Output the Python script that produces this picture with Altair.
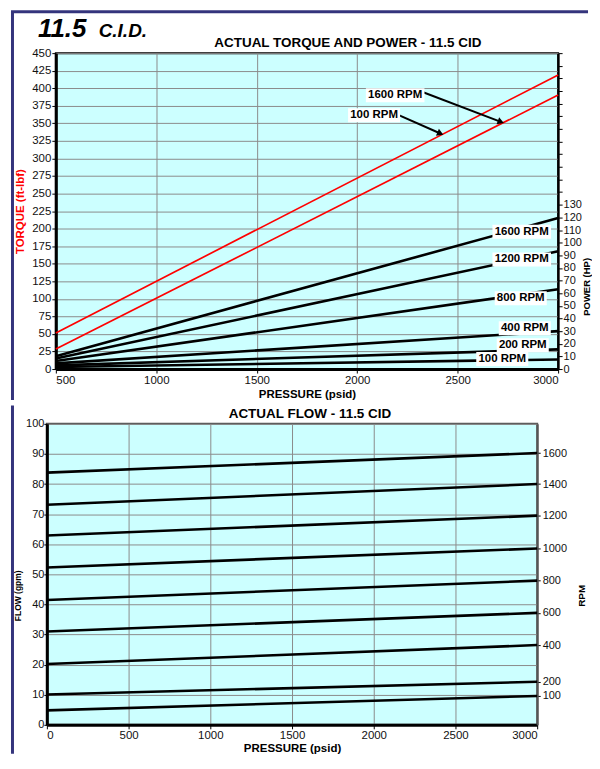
import altair as alt
import pandas as pd

FONT = "Liberation Sans"
BG = "#ccffff"
GRID = "#8c8c8c"
NAVY = "#34347c"

# ---------------- top chart values ----------------
top_pressure = [500, 3000]

torque_curves = ["100 RPM", "1600 RPM"]
torque_at_500 = [51.5, 28.4]
torque_at_3000 = [419.0, 390.4]

power_curves = ["100 RPM", "200 RPM", "400 RPM", "800 RPM", "1200 RPM", "1600 RPM"]
power_at_500 = [1.6, 2.9, 4.5, 6.3, 8.4, 10.2]
power_at_3000 = [7.6, 15.6, 30.0, 63.2, 93.2, 119.5]

power_label_pressure = [2722, 2824, 2834, 2814, 2819, 2819]
power_label_hp = [7.9, 18.9, 32.3, 56.0, 86.7, 108.7]

torque_label_text = ["1600 RPM", "100 RPM"]
torque_label_pressure = [2189, 2084]
torque_label_torque = [390.0, 361.6]
arrow_from_pressure = [2325, 2207]
arrow_from_torque = [394.7, 361.6]
arrow_to_pressure = [2715, 2414]
arrow_to_torque = [352.0, 335.5]
arrow_angle = [20.6, 23.5]

torque_ticks = list(range(0, 451, 25))
power_ticks = list(range(0, 251, 10))
top_pressure_ticks = [500, 1000, 1500, 2000, 2500, 3000]

# --------------- bottom chart values --------------
flow_pressure = [0, 3000]
flow_rpm = ["100", "200", "400", "600", "800", "1000", "1200", "1400", "1600"]
flow_at_0 = [4.8, 10.1, 20.2, 31.0, 41.5, 52.3, 62.9, 73.1, 83.8]
flow_at_3000 = [9.6, 14.3, 26.5, 37.2, 47.9, 58.6, 69.5, 80.0, 90.3]
flow_ticks = list(range(0, 101, 10))
flow_pressure_ticks = [0, 500, 1000, 1500, 2000, 2500, 3000]

# --------------- tables ----------------
torque_df = pd.DataFrame(
    [{"rpm": r, "pressure": p, "torque": v}
     for r, a, b in zip(torque_curves, torque_at_500, torque_at_3000)
     for p, v in zip(top_pressure, [a, b])]
)
power_df = pd.DataFrame(
    [{"rpm": r, "pressure": p, "hp": v}
     for r, a, b in zip(power_curves, power_at_500, power_at_3000)
     for p, v in zip(top_pressure, [a, b])]
)


def box(text, h=14.0):
    w = 6.6 * len(text) + 6
    return f"M-1,{-h / w:.4f}H1V{h / w:.4f}H-1Z", w * w


power_lab_df = pd.DataFrame({
    "text": power_curves,
    "pressure": power_label_pressure,
    "hp": power_label_hp,
})
power_lab_df["shape"] = [box(t)[0] for t in power_curves]
power_lab_df["size"] = [box(t)[1] for t in power_curves]

torque_lab_df = pd.DataFrame({
    "text": torque_label_text,
    "pressure": torque_label_pressure,
    "torque": torque_label_torque,
})
torque_lab_df["shape"] = [box(t)[0] for t in torque_label_text]
torque_lab_df["size"] = [box(t)[1] for t in torque_label_text]

arrow_df = pd.DataFrame({
    "pressure": arrow_from_pressure, "t0": arrow_from_torque,
    "p1": arrow_to_pressure, "t1": arrow_to_torque,
    "ang": arrow_angle,
})

flow_df = pd.DataFrame(
    [{"rpm": r, "pressure": p, "flow": v}
     for r, a, b in zip(flow_rpm, flow_at_0, flow_at_3000)
     for p, v in zip(flow_pressure, [a, b])]
)

one = pd.DataFrame({"a": [0]})


def label(text, x, y, size, italic=False, align="left"):
    return alt.Chart(pd.DataFrame({"t": [text]})).mark_text(
        font=FONT, fontSize=size, fontStyle="italic" if italic else "normal",
        fontWeight="bold", color="black", align=align, baseline="alphabetic"
    ).encode(x=alt.value(x), y=alt.value(y), text="t:N")


# --------------- axes ----------------
lab = dict(labelFont=FONT, labelFontSize=11.5, labelColor="#111111",
           titleFont=FONT, titleFontSize=11.5, titleFontWeight="bold",
           tickColor="black", tickSize=4, domainColor="black",
           gridColor=GRID, gridWidth=1, gridOpacity=1)

TOP_W, TOP_H = 504, 317
BOT_W, BOT_H = 492, 302

x_top_scale = alt.Scale(domain=[500, 3000], nice=False, zero=False)
torque_scale = alt.Scale(domain=[0, 450], nice=False)
power_scale = alt.Scale(domain=[0, 250], nice=False)

x_top_axis = alt.Axis(values=top_pressure_ticks, format="d", title="PRESSURE (psid)",
                      titleColor="black", domainWidth=3, grid=True, labelPadding=2,
                      titlePadding=2, **lab)
torque_axis = alt.Axis(values=torque_ticks, title="TORQUE (ft-lbf)", titleColor="#ff0000",
                       domainWidth=3, grid=True, labelPadding=1, titlePadding=6, **lab)
lab_p = dict(lab)
lab_p["labelFontSize"] = 11
lab_p["titleFontSize"] = 9.5
power_axis = alt.Axis(orient="right", values=power_ticks,
                      labelExpr="datum.value <= 130 ? datum.label : ''",
                      title="POWER (HP)", titleColor="black", titleAngle=270, titleY=234,
                      titleBaseline="top", titleAlign="center",
                      grid=False, domainWidth=2, labelPadding=1, titlePadding=0, **lab_p)

X_top = alt.X("pressure:Q", scale=x_top_scale, axis=x_top_axis)

# --------------- top chart layers ----------------
frame_top = alt.Chart(one).mark_rule(color=NAVY, strokeWidth=3).encode(
    x=alt.value(-45), x2=alt.value(TOP_W + 30), y=alt.value(-41.5)
)
frame_left_top = alt.Chart(one).mark_rule(color=NAVY, strokeWidth=3).encode(
    x=alt.value(-43.5), y=alt.value(-41.5), y2=alt.value(348)
)
big = label("11.5", -18, -16, 26, italic=True)
small = label("C.I.D.", 43, -16, 19, italic=True)
top_title = label("ACTUAL TORQUE AND POWER - 11.5 CID", 293, -6, 13.5, align="center")

torque_lines = alt.Chart(torque_df).mark_line(color="#ff0000", strokeWidth=1.7).encode(
    x=X_top,
    y=alt.Y("torque:Q", scale=torque_scale, axis=torque_axis),
    detail="rpm:N",
)
arrow_lines = alt.Chart(arrow_df).mark_rule(color="black", strokeWidth=2).encode(
    x=X_top, x2="p1:Q",
    y=alt.Y("t0:Q", scale=torque_scale, axis=None), y2="t1:Q",
)
arrow_heads = alt.Chart(arrow_df).mark_point(
    shape="triangle-right", filled=True, color="black", opacity=1, size=55
).encode(
    x=alt.X("p1:Q", scale=x_top_scale, axis=x_top_axis),
    y=alt.Y("t1:Q", scale=torque_scale, axis=None),
    angle=alt.Angle("ang:Q", scale=None),
)
torque_boxes = alt.Chart(torque_lab_df).mark_point(filled=True, color="white", opacity=1).encode(
    x=X_top, y=alt.Y("torque:Q", scale=torque_scale, axis=None),
    shape=alt.Shape("shape:N", scale=None), size=alt.Size("size:Q", scale=None),
)
torque_text = alt.Chart(torque_lab_df).mark_text(
    font=FONT, fontSize=11.5, fontWeight="bold", color="black", align="center", baseline="middle"
).encode(x=X_top, y=alt.Y("torque:Q", scale=torque_scale, axis=None), text="text:N")

power_lines = alt.Chart(power_df).mark_line(color="black", strokeWidth=2.6).encode(
    x=X_top,
    y=alt.Y("hp:Q", scale=power_scale, axis=power_axis),
    detail="rpm:N",
)
power_boxes = alt.Chart(power_lab_df).mark_point(filled=True, color="white", opacity=1).encode(
    x=X_top, y=alt.Y("hp:Q", scale=power_scale, axis=None),
    shape=alt.Shape("shape:N", scale=None), size=alt.Size("size:Q", scale=None),
)
power_text = alt.Chart(power_lab_df).mark_text(
    font=FONT, fontSize=11.5, fontWeight="bold", color="black", align="center", baseline="middle"
).encode(x=X_top, y=alt.Y("hp:Q", scale=power_scale, axis=None), text="text:N")

top = alt.layer(
    frame_top, frame_left_top, big, small, top_title,
    torque_lines, power_lines,
    arrow_lines, arrow_heads, torque_boxes, torque_text,
    power_boxes, power_text,
).resolve_scale(y="independent").properties(
    width=TOP_W, height=TOP_H,
    view=alt.ViewBackground(fill=BG, stroke="black", strokeWidth=2),
)

spacer = alt.Chart(one).mark_point(opacity=0).encode(
    x=alt.value(0), y=alt.value(0)
).properties(width=9, height=1, view=alt.ViewBackground(strokeOpacity=0, fillOpacity=0))

# --------------- bottom chart ----------------
x_bot_scale = alt.Scale(domain=[0, 3000], nice=False)
flow_scale = alt.Scale(domain=[0, 100], nice=False)

rpm_expr = "[" + ",".join(f"'{r}'" for r in flow_rpm) + "][indexof([" + \
    ",".join(str(v) for v in flow_at_3000) + "], datum.value)]"

x_bot_axis = alt.Axis(values=flow_pressure_ticks, format="d", title="PRESSURE (psid)",
                      titleColor="black", domainWidth=3, grid=True, labelPadding=1,
                      titlePadding=1, **lab)
lab_l = dict(lab)
lab_l["tickSize"] = 3
lab_l["labelFontSize"] = 11
lab_l["titleFontSize"] = 8.5
flow_axis = alt.Axis(values=flow_ticks, title="FLOW (gpm)", titleColor="black", titleY=172,
                     domainWidth=3, grid=True, labelPadding=0, titlePadding=3, **lab_l)
lab_r = dict(lab)
lab_r["tickSize"] = 3
lab_r["labelFontSize"] = 11
lab_r["titleFontSize"] = 10
lab_r["domainColor"] = "#555555"
rpm_axis = alt.Axis(orient="right", values=flow_at_3000, labelExpr=rpm_expr, title="RPM",
                    titleColor="black", titleAngle=270, titleY=172, titleBaseline="top",
                    titleAlign="center", grid=False,
                    domainWidth=2, labelPadding=2, titlePadding=10, **lab_r)

X_bot = alt.X("pressure:Q", scale=x_bot_scale, axis=x_bot_axis)

flow_lines = alt.Chart(flow_df).mark_line(color="black", strokeWidth=2.6).encode(
    x=X_bot,
    y=alt.Y("flow:Q", scale=flow_scale, axis=flow_axis),
    detail="rpm:N",
)
rpm_ghost = alt.Chart(flow_df).mark_line(opacity=0).encode(
    x=X_bot,
    y=alt.Y("flow:Q", scale=flow_scale, axis=rpm_axis),
    detail="rpm:N",
)
frame_left_bot = alt.Chart(one).mark_rule(color=NAVY, strokeWidth=3).encode(
    x=alt.value(-34.5), y=alt.value(-18.5), y2=alt.value(BOT_H + 29)
)
bot_title = label("ACTUAL FLOW - 11.5 CID", 264, -6, 13.5, align="center")

bottom = alt.layer(frame_left_bot, bot_title, flow_lines, rpm_ghost).resolve_scale(
    y="independent"
).properties(
    width=BOT_W, height=BOT_H,
    view=alt.ViewBackground(fill=BG, stroke="#555555", strokeWidth=2),
)

row = alt.hconcat(spacer, top, spacing=0, bounds="flush")
chart = alt.vconcat(row, bottom, spacing=0).properties(
    padding={"left": 0, "top": 0, "right": 0, "bottom": 0},
    autosize=alt.AutoSizeParams(type="pad"),
).configure(padding={"left": 0, "top": 0, "right": 0, "bottom": 0})

chart.save("out.html", embed_options={"renderer": "svg", "actions": False})
